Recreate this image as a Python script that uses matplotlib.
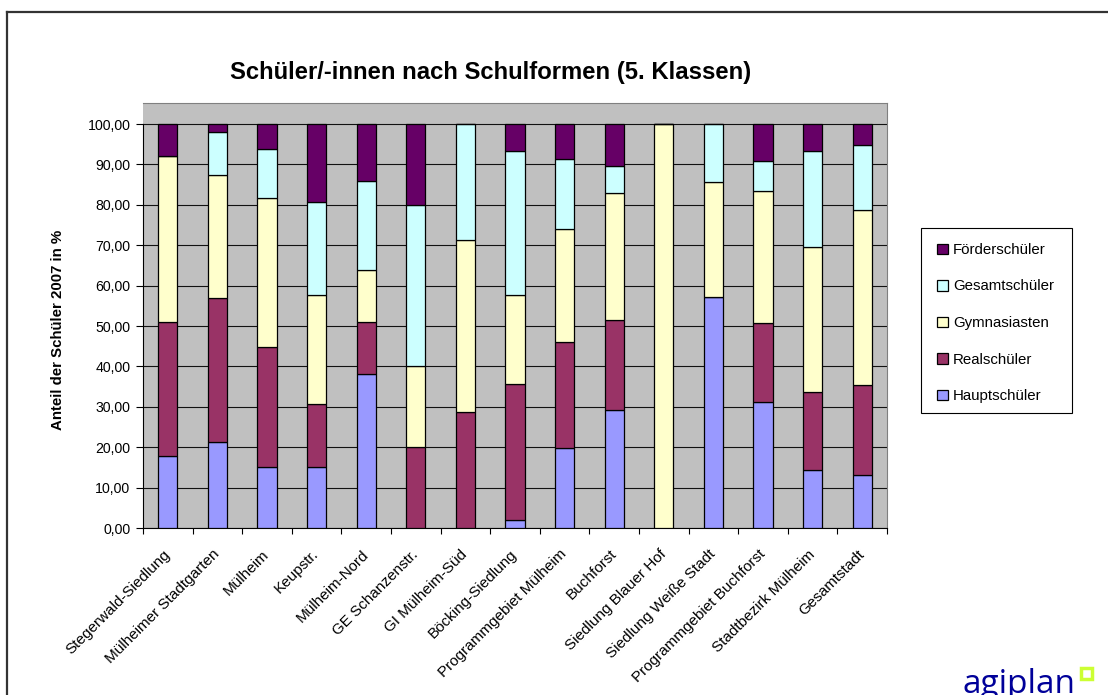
import matplotlib
matplotlib.use('Agg')
import matplotlib.pyplot as plt
import matplotlib.transforms as mtransforms
import numpy as np
from matplotlib.patches import Rectangle
from matplotlib.lines import Line2D

plt.rcParams['font.family'] = ['Liberation Sans', 'DejaVu Sans']

gebiete = ['Stegerwald-Siedlung', 'Mülheimer Stadtgarten', 'Mülheim', 'Keupstr.',
           'Mülheim-Nord', 'GE Schanzenstr.', 'GI Mülheim-Süd', 'Böcking-Siedlung',
           'Programmgebiet Mülheim', 'Buchforst', 'Siedlung Blauer Hof',
           'Siedlung Weiße Stadt', 'Programmgebiet Buchforst', 'Stadtbezirk Mülheim',
           'Gesamtstadt']

# Anteile in %
hauptschueler = [17.7, 21.2, 15.2, 15.2, 38.2, 0.0, 0.0, 2.1, 19.7, 29.1, 0.0, 57.1, 31.2, 14.3, 13.0]
realschueler = [33.4, 35.8, 29.7, 15.4, 12.9, 20.0, 28.6, 33.5, 26.3, 22.5, 0.0, 0.0, 19.5, 19.4, 22.3]
gymnasiasten = [41.1, 30.5, 36.7, 27.1, 12.8, 20.0, 42.8, 22.1, 28.0, 31.2, 100.0, 28.6, 32.8, 35.9, 43.5]
gesamtschueler = [0.0, 10.6, 12.1, 23.1, 22.1, 40.0, 28.6, 35.6, 17.3, 6.9, 0.0, 14.3, 7.3, 23.6, 15.9]
foerderschueler = [7.8, 1.9, 6.3, 19.2, 14.0, 20.0, 0.0, 6.7, 8.7, 10.3, 0.0, 0.0, 9.2, 6.8, 5.3]

reihen = [('Hauptschüler', hauptschueler, '#9999ff'),
          ('Realschüler', realschueler, '#993366'),
          ('Gymnasiasten', gymnasiasten, '#ffffcc'),
          ('Gesamtschüler', gesamtschueler, '#ccffff'),
          ('Förderschüler', foerderschueler, '#660066')]

W, H = 1108, 695
fig = plt.figure(figsize=(W / 100, H / 100), dpi=100)
ax = fig.add_axes([143 / W, 1 - 528 / H, 744 / W, 425 / H])
ax.set_facecolor('#c0c0c0')

x = np.arange(len(gebiete))
bottom = np.zeros(len(gebiete))
for name, vals, col in reihen:
    vals = np.array(vals)
    ax.bar(x, vals, width=0.39, bottom=bottom, color=col, edgecolor='black',
           linewidth=0.9, label=name, zorder=3)
    bottom += vals

ax.set_xlim(-0.5, len(gebiete) - 0.5)
ax.set_ylim(0, 105.2)

yt = np.arange(0, 101, 10)
ax.set_yticks(yt)
ax.set_yticklabels([f'{v:.2f}'.replace('.', ',') for v in yt], fontsize=10.2)
ax.yaxis.grid(True, color='#111111', linewidth=0.8)
ax.set_axisbelow(True)
ax.tick_params(axis='y', length=5, width=0.8, pad=4)

ax.set_xticks(x)
ax.set_xticklabels(gebiete, rotation=45, ha='right', va='top',
                   rotation_mode='anchor', fontsize=11)
ax.tick_params(axis='x', which='major', length=0, pad=8)
ax.set_xticks(np.arange(-0.5, len(gebiete)), minor=True)
ax.tick_params(axis='x', which='minor', length=4, width=0.8)
# Beschriftungen etwas nach links unten schieben
verschiebung = mtransforms.ScaledTranslation(-5 / 100, -8 / 100, fig.dpi_scale_trans)
for lab in ax.get_xticklabels():
    lab.set_transform(lab.get_transform() + verschiebung)

for s in ['top', 'right']:
    ax.spines[s].set_color('#808080')
    ax.spines[s].set_linewidth(0.8)
for s in ['left', 'bottom']:
    ax.spines[s].set_color('black')
    ax.spines[s].set_linewidth(0.8)
ax.spines['left'].set_bounds(0, 100)

fig.text(491 / W, 1 - 72 / H, 'Schüler/-innen nach Schulformen (5. Klassen)',
         ha='center', va='center', fontsize=17.2, fontweight='bold')
fig.text(58 / W, 1 - 330 / H, 'Anteil der Schüler 2007 in %', rotation=90,
         ha='center', va='center', fontsize=10.8, fontweight='bold')

# Legende ohne eigenen Rahmen, Kasten separat
handles, labels = ax.get_legend_handles_labels()
leg = fig.legend(handles[::-1], labels[::-1], loc='upper left',
                 bbox_to_anchor=(937 / W, 1 - 243 / H), bbox_transform=fig.transFigure,
                 borderaxespad=0, borderpad=0, fontsize=10.8, handlelength=0.7,
                 handleheight=0.7, handletextpad=0.35, labelspacing=1.5,
                 frameon=False)
fig.add_artist(Rectangle((921 / W, 1 - 413 / H), 151 / W, 185 / H, fill=False,
                         edgecolor='black', linewidth=0.8, transform=fig.transFigure))

# Rahmen
fig.add_artist(Line2D([7 / W, 1], [1 - 12 / H, 1 - 12 / H], transform=fig.transFigure,
                      color='#333333', linewidth=1.6))
fig.add_artist(Line2D([7 / W, 7 / W], [0, 1 - 12 / H], transform=fig.transFigure,
                      color='#333333', linewidth=1.6))

# Logo
fig.text(1075 / W, 1 - 693 / H, 'agiplan', ha='right', va='baseline',
         color='#000099', fontsize=24, family='Open Sans')
fig.add_artist(Rectangle((1081 / W, 1 - 679 / H), 11 / W, 11 / H, fill=False,
                         edgecolor='#ccff33', linewidth=2.5, transform=fig.transFigure))

fig.savefig('out.png', dpi=100)
